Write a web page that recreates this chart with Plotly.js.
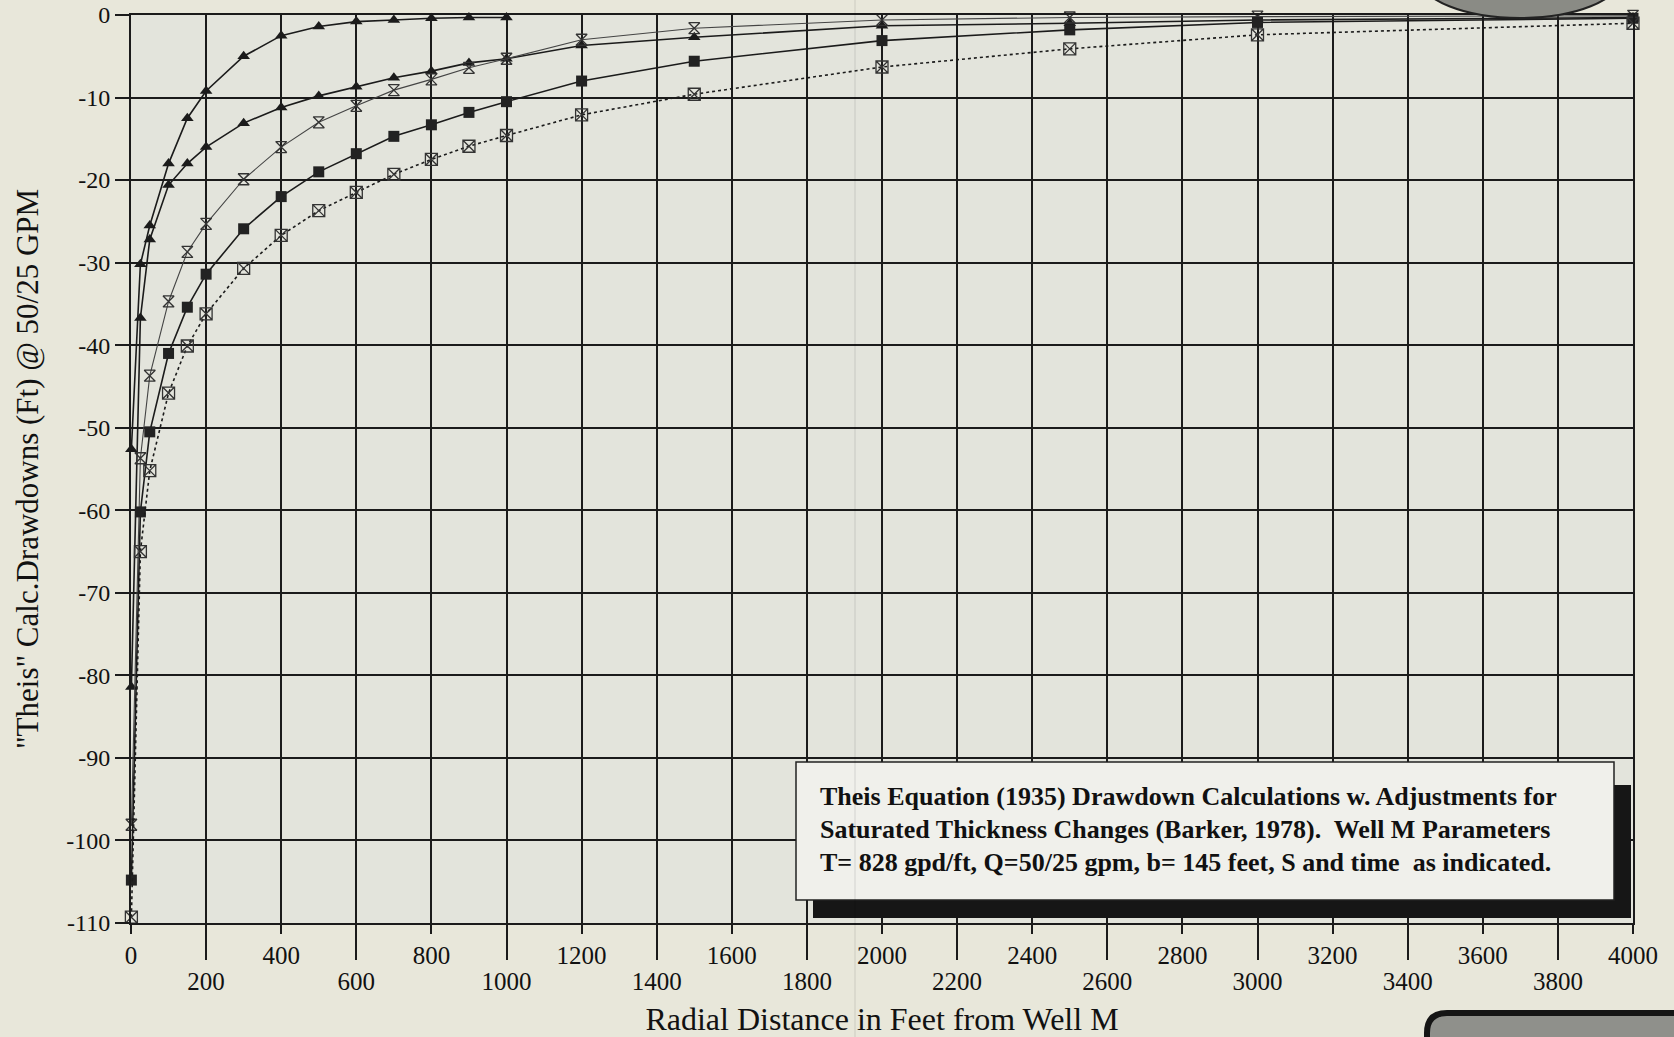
<!DOCTYPE html>
<html>
<head>
<meta charset="utf-8">
<script src="https://cdn.plot.ly/plotly-3.0.1.min.js"></script>
<style>
  html, body { margin: 0; padding: 0; background: #e8e7da; }
  #chart { width: 1674px; height: 1037px; }
</style>
</head>
<body>
<div id="chart"></div>
<script>
// ---- data ----
const distance = [1, 25, 50, 100, 150, 200, 300, 400, 500, 600, 700, 800, 900, 1000, 1200, 1500, 2000, 2500, 3000, 4000];
const distanceA = [1, 25, 50, 100, 150, 200, 300, 400, 500, 600, 700, 800, 900, 1000];

const triFast  = [-52.6, -30.2, -25.5, -18.0, -12.5, -9.2, -5.0, -2.5, -1.4, -0.8, -0.6, -0.4, -0.3, -0.3];
const triSlow  = [-81.4, -36.7, -27.2, -20.6, -18.0, -16.0, -13.1, -11.2, -9.8, -8.7, -7.6, -6.8, -5.8, -5.3, -3.7, -2.7, -1.3, -1.0, -0.6, -0.3];
const hourglassSeries = [-98.1, -53.7, -43.7, -34.7, -28.7, -25.3, -19.9, -16.0, -13.0, -11.0, -9.1, -7.8, -6.4, -5.3, -3.0, -1.6, -0.6, -0.3, -0.2, -0.1];
const filledSquare = [-104.8, -60.2, -50.5, -41.0, -35.4, -31.4, -25.9, -22.0, -19.0, -16.8, -14.7, -13.3, -11.8, -10.5, -8.0, -5.6, -3.1, -1.8, -0.9, -0.4];
const openSquare   = [-109.3, -65.0, -55.2, -45.8, -40.1, -36.2, -30.7, -26.7, -23.7, -21.5, -19.3, -17.5, -15.9, -14.6, -12.1, -9.6, -6.3, -4.1, -2.4, -1.0];

const xTicksRow1 = [0, 400, 800, 1200, 1600, 2000, 2400, 2800, 3200, 3600, 4000];
const xTicksRow2 = [200, 600, 1000, 1400, 1800, 2200, 2600, 3000, 3400, 3800];
const yTicks = [0, -10, -20, -30, -40, -50, -60, -70, -80, -90, -100, -110];

const noteLines = [
  "Theis Equation (1935) Drawdown Calculations w. Adjustments for",
  "Saturated Thickness Changes (Barker, 1978).  Well M Parameters",
  "T= 828 gpd/ft, Q=50/25 gpm, b= 145 feet, S and time  as indicated."
];

// ---- geometry helpers (pixel -> paper) ----
const W = 1674, H = 1037;
const M = {l: 131, r: 41, t: 15, b: 114};
const PW = W - M.l - M.r, PH = H - M.t - M.b;
const px = v => (v - M.l) / PW;
const py = v => (H - M.b - v) / PH;

const ink = '#1b1b1b';
const serif = 'Liberation Serif, Times New Roman, serif';

const traces = [
  {x: distanceA, y: triFast, mode: 'lines+markers', cliponaxis: false,
   line: {color: ink, width: 1.6},
   marker: {symbol: 'triangle-up', size: 11, color: ink}},
  {x: distance, y: triSlow, mode: 'lines+markers', cliponaxis: false,
   line: {color: ink, width: 1.6},
   marker: {symbol: 'triangle-up', size: 11, color: ink}},
  {x: distance, y: hourglassSeries, mode: 'lines+markers', cliponaxis: false,
   line: {color: '#444', width: 1.1},
   marker: {symbol: 'hourglass-open', size: 11, color: '#333', line: {width: 1.3, color: '#333'}}},
  {x: distance, y: filledSquare, mode: 'lines+markers', cliponaxis: false,
   line: {color: ink, width: 1.6},
   marker: {symbol: 'square', size: 11, color: '#222'}},
  {x: distance, y: openSquare, mode: 'lines+markers', cliponaxis: false,
   line: {color: ink, width: 1.6, dash: 'dot'},
   marker: {symbol: 'square-x-open', size: 12, color: '#333', line: {width: 1.3, color: '#333'}}},
  // carrier for the second row of x tick labels
  {x: [0, 4000], y: [null, null], xaxis: 'x2', mode: 'lines', hoverinfo: 'skip', showlegend: false}
];

const shapes = [
  // note box shadow + box
  {type: 'rect', xref: 'paper', yref: 'paper', x0: px(813), x1: px(1631), y0: py(918), y1: py(785),
   fillcolor: '#161616', line: {width: 0}},
  {type: 'rect', xref: 'paper', yref: 'paper', x0: px(796), x1: px(1614), y0: py(900), y1: py(762),
   fillcolor: '#f0f0eb', line: {color: '#222', width: 1.5}},
  // stray scan fold
  {type: 'line', xref: 'paper', yref: 'paper', x0: px(855), x1: px(855), y0: py(1037), y1: py(0),
   line: {color: 'rgba(0,0,0,0.12)', width: 1}},
  // partial hatched ellipse at top right (neighbouring figure)
  {type: 'circle', xref: 'paper', yref: 'paper', x0: px(1420), x1: px(1620), y0: py(18), y1: py(-62),
   fillcolor: '#8a8b85', line: {color: '#222', width: 2}},
  // partial rounded box at bottom right (neighbouring figure)
  {type: 'path', xref: 'paper', yref: 'paper',
   path: `M ${px(1427)},${py(1060)} L ${px(1427)},${py(1033)} Q ${px(1427)},${py(1013)} ${px(1447)},${py(1013)} L ${px(1700)},${py(1013)} L ${px(1700)},${py(1060)} Z`,
   fillcolor: '#8f908b', line: {color: '#151515', width: 6}}
];

const annotations = noteLines.map((t, i) => ({
  xref: 'paper', yref: 'paper', x: px(818), y: py(796 + i * 33),
  xanchor: 'left', yanchor: 'middle', showarrow: false, align: 'left',
  text: '<b>' + t + '</b>',
  font: {family: serif, size: 26, color: '#111'}
}));

const layout = {
  width: W, height: H,
  margin: M,
  paper_bgcolor: '#e8e7da',
  plot_bgcolor: '#e3e4dc',
  showlegend: false,
  font: {family: serif, color: '#111'},
  xaxis: {
    range: [0, 4000], tickvals: xTicksRow1, ticktext: xTicksRow1.map(String),
    ticks: 'outside', ticklen: 9, tickwidth: 2, tickcolor: ink,
    showgrid: true, gridcolor: ink, gridwidth: 2, zeroline: false,
    showline: true, mirror: true, linecolor: ink, linewidth: 2,
    tickfont: {family: serif, size: 25, color: '#111'},
    title: {text: 'Radial Distance in Feet from Well M', font: {family: serif, size: 32, color: '#111'}, standoff: 40}
  },
  xaxis2: {
    overlaying: 'x', anchor: 'y', side: 'bottom', range: [0, 4000],
    tickvals: xTicksRow2, ticktext: xTicksRow2.map(String),
    ticks: 'outside', ticklen: 36, tickwidth: 2, tickcolor: ink,
    showgrid: true, gridcolor: ink, gridwidth: 2, zeroline: false, showline: false,
    tickfont: {family: serif, size: 25, color: '#111'}
  },
  yaxis: {
    range: [-110, 0], tickvals: yTicks, ticktext: yTicks.map(String),
    ticks: 'outside', ticklen: 14, tickwidth: 2, tickcolor: ink,
    showgrid: true, gridcolor: ink, gridwidth: 2, zeroline: false,
    showline: true, mirror: true, linecolor: ink, linewidth: 2,
    tickfont: {family: serif, size: 24, color: '#111'},
    title: {text: '"Theis" Calc.Drawdowns (Ft) @ 50/25 GPM', font: {family: serif, size: 31, color: '#111'}, standoff: 18}
  },
  shapes: shapes,
  annotations: annotations
};

Plotly.newPlot('chart', traces, layout, {displayModeBar: false, staticPlot: true});
</script>
</body>
</html>
